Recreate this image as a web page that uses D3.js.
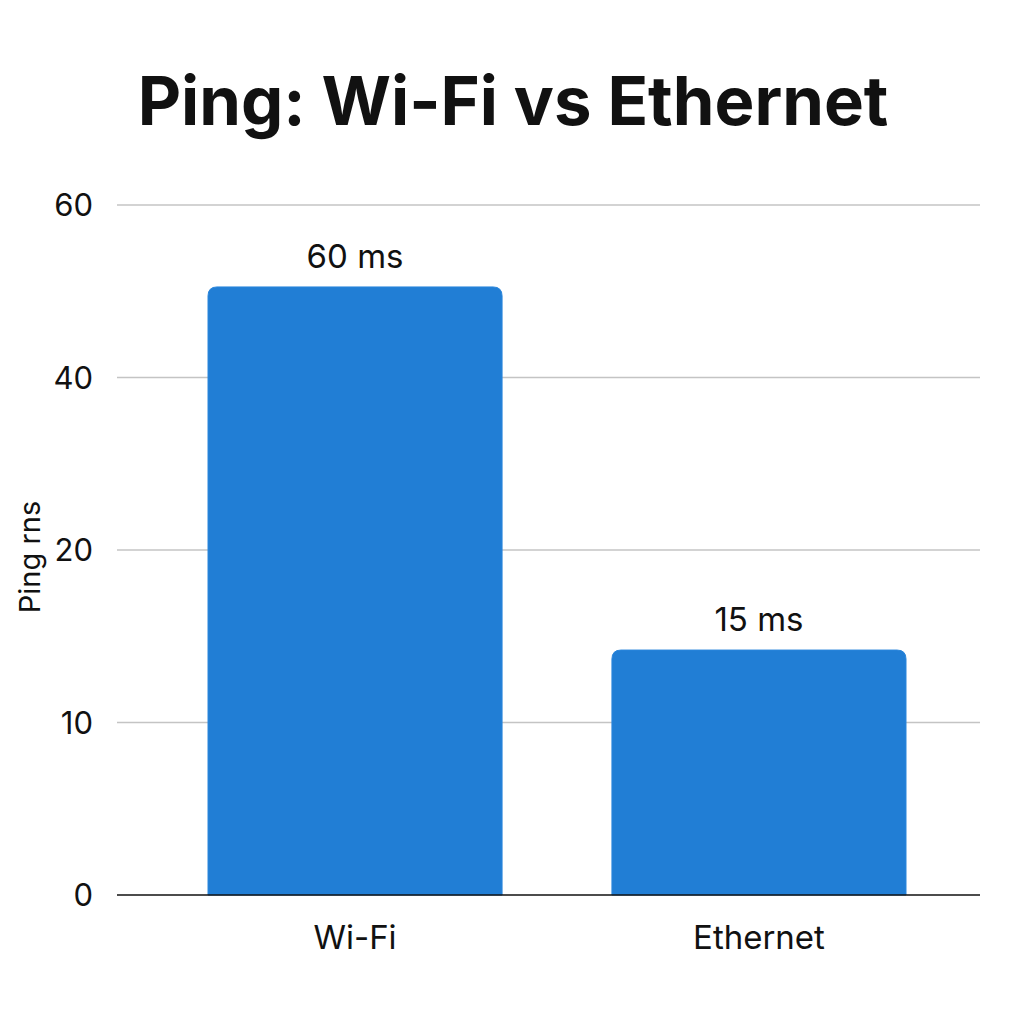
<!DOCTYPE html>
<html>
<head>
<meta charset="utf-8">
<script src="https://cdn.jsdelivr.net/npm/d3@7"></script>
<style>
  body { margin: 0; background: #fff; }
  text { font-family: Inter, "Noto Sans", sans-serif; fill: #111; }
</style>
</head>
<body>
<div id="chart"></div>
<script>
// chart data
var categories = ["Wi-Fi", "Ethernet"];
var barValues = [50.5, 14.2];          // bar heights as drawn on the axis
var barLabels = ["60 ms", "15 ms"];    // labels printed above bars
var tickValues = [0, 10, 20, 40, 60];  // y ticks (equally spaced in the picture)

var W = 1024, H = 1024;
var plotLeft = 117, plotRight = 980, plotTop = 205, plotBottom = 895;

function drawChart(){

  var svg = d3.select("#chart").append("svg")
      .attr("width", W)
      .attr("height", H);

  // y scale: ticks are evenly spaced, so piecewise linear
  var yScale = d3.scaleLinear()
      .domain(tickValues)
      .range(tickValues.map(function(d, i){
        return plotBottom - i * (plotBottom - plotTop) / (tickValues.length - 1);
      }));

  var xScale = d3.scaleBand()
      .domain(categories)
      .range([plotLeft + 91, plotRight - 74])
      .paddingInner(0.272)
      .paddingOuter(0);

  // gridlines
  svg.append("g")
    .selectAll("line")
    .data(tickValues.slice(1))
    .enter()
    .append("line")
      .attr("x1", plotLeft)
      .attr("x2", plotRight)
      .attr("y1", function(d){ return yScale(d); })
      .attr("y2", function(d){ return yScale(d); })
      .attr("stroke", "#c4c4c4")
      .attr("stroke-width", 1.5);

  // y tick labels
  var yAxis = svg.append("g")
      .attr("transform", "translate(" + 93 + ",0)")
      .call(d3.axisLeft(yScale).tickValues(tickValues).tickSize(0).tickPadding(0));
  yAxis.select(".domain").remove();
  yAxis.selectAll("text")
      .attr("font-size", 31)
      .attr("dy", "0.35em")
      .style("font-family", "Inter, 'Noto Sans', sans-serif")
      .attr("fill", "#111");

  // bars
  svg.append("g")
    .selectAll("path")
    .data(barValues)
    .enter()
    .append("path")
      .attr("d", function(d, i){
        var x0 = xScale(categories[i]), x1 = x0 + xScale.bandwidth();
        var y0 = yScale(d), y1 = yScale(0), r = 9;
        return "M" + x0 + "," + y1 +
               "V" + (y0 + r) +
               "Q" + x0 + "," + y0 + " " + (x0 + r) + "," + y0 +
               "H" + (x1 - r) +
               "Q" + x1 + "," + y0 + " " + x1 + "," + (y0 + r) +
               "V" + y1 + "Z";
      })
      .attr("fill", "#217ed5")
      .attr("stroke", "#2a86dc")
      .attr("stroke-width", 1);

  // value labels
  svg.append("g")
    .selectAll("text")
    .data(barLabels)
    .enter()
    .append("text")
      .attr("x", function(d, i){ return xScale(categories[i]) + xScale.bandwidth() / 2; })
      .attr("y", function(d, i){ return yScale(barValues[i]) - 19; })
      .attr("text-anchor", "middle")
      .attr("font-size", 33)
      .text(function(d){ return d; });

  // baseline
  svg.append("line")
      .attr("x1", plotLeft)
      .attr("x2", plotRight)
      .attr("y1", yScale(0))
      .attr("y2", yScale(0))
      .attr("stroke", "#111")
      .attr("stroke-width", 1.5);

  // x category labels
  var xAxis = svg.append("g")
      .attr("transform", "translate(0," + yScale(0) + ")")
      .call(d3.axisBottom(xScale).tickSize(0).tickPadding(31));
  xAxis.select(".domain").remove();
  xAxis.selectAll("text")
      .attr("font-size", 33)
      .style("font-family", "Inter, 'Noto Sans', sans-serif")
      .attr("fill", "#111");

  // y axis title
  svg.append("text")
      .attr("transform", "translate(40,557) rotate(-90)")
      .attr("text-anchor", "middle")
      .attr("font-size", 29)
      .text("Ping rns");

  // title
  svg.append("text")
      .attr("x", 513)
      .attr("y", 125)
      .attr("text-anchor", "middle")
      .attr("font-size", 67)
      .attr("font-weight", "bold")
      .text("Ping: Wi-Fi vs Ethernet");
}

drawChart();
</script>
</body>
</html>
